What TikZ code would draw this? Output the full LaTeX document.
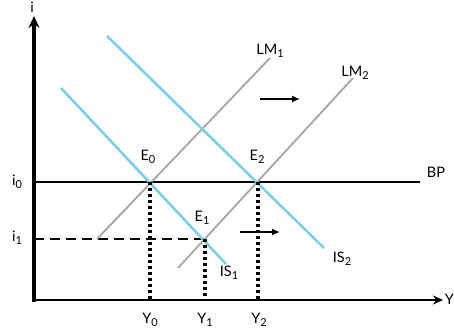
\documentclass[tikz,border=0pt]{standalone}
\usepackage{fontspec}
\setmainfont{Lato}
\usetikzlibrary{arrows.meta}
\definecolor{isblue}{RGB}{128,205,232}
\definecolor{lmgray}{RGB}{165,165,165}
\newcommand{\lowsub}[1]{\raisebox{-0.45ex}{\fontsize{11}{13}\selectfont #1}}
\tikzset{
  lbl/.style={font=\fontsize{14.5}{16}\selectfont, inner sep=1pt},
  isline/.style={isblue, line width=2.6pt},
  lmline/.style={lmgray, line width=1.8pt},
  dropline/.style={line width=3.6pt, dash pattern=on 3.4pt off 2.6pt},
  shiftarrow/.style={line width=1.4pt, -{Latex[length=8pt,width=7pt]}},
}
\begin{document}
\begin{tikzpicture}[x=1pt,y=-1pt]
\useasboundingbox (0,0) rectangle (454,329);
% key points
\coordinate (O) at (34,300);
\coordinate (ytop) at (34,16);
\coordinate (xend) at (443,300);
\coordinate (E0) at (150,182);
\coordinate (E1) at (205,239);
\coordinate (E2) at (258,182);
\coordinate (BPl) at (34,182);
\coordinate (BPr) at (420,182);
\coordinate (i1l) at (34,239);
\coordinate (Y0) at (150,300);
\coordinate (Y1) at (205,300);
\coordinate (Y2) at (258,300);
\coordinate (IS1a) at (61,88);
\coordinate (IS1b) at (226,264);
\coordinate (IS2a) at (107,36);
\coordinate (IS2b) at (324,248);
\coordinate (LM1a) at (97,239);
\coordinate (LM1b) at (270,58);
\coordinate (LM2a) at (178,268);
\coordinate (LM2b) at (353,78);
\coordinate (A1a) at (260,99);
\coordinate (A1b) at (300,99);
\coordinate (A2a) at (240,232);
\coordinate (A2b) at (280,232);
% BP and dashed
\draw[line width=1.4pt] (BPl) -- (BPr);
\draw[line width=2pt, dash pattern=on 10pt off 6pt] (i1l) -- (E1);
% curves
\draw[lmline] (LM1a) -- (LM1b);
\draw[lmline] (LM2a) -- (LM2b);
\draw[isline] (IS1a) -- (IS1b);
\draw[isline] (IS2a) -- (IS2b);
% drop lines
\draw[dropline] (E0) -- (Y0);
\draw[dropline] (E1) -- (Y1);
\draw[dropline] (E2) -- (Y2);
% axes
\draw[line width=2.6pt, -{Stealth[length=10pt,width=9pt]}] (O) -- (xend);
\draw[line width=3.6pt, -{Stealth[length=12pt,width=11pt]}] ([yshift=-1.5pt]O) -- (ytop);
% shift arrows
\draw[shiftarrow] (A1a) -- (A1b);
\draw[shiftarrow] (A2a) -- (A2b);
% labels
\node[lbl] (li) at (32,7) {i};
\node[lbl, anchor=east, inner sep=0pt] (lY) at (454,299) {Y};
\node[lbl] (li0) at (17,182) {i\lowsub{0}};
\node[lbl] (li1) at (17,238) {i\lowsub{1}};
\node[lbl] (lBP) at (436,172) {BP};
\node[lbl] (lE0) at (148,157) {E\lowsub{0}};
\node[lbl] (lE1) at (202,218) {E\lowsub{1}};
\node[lbl] (lE2) at (257,157) {E\lowsub{2}};
\node[lbl] (lLM1) at (270,51) {LM\lowsub{1}};
\node[lbl] (lLM2) at (355,73) {LM\lowsub{2}};
\node[lbl] (lIS1) at (229,273) {IS\lowsub{1}};
\node[lbl] (lIS2) at (342,259) {IS\lowsub{2}};
\node[lbl] (lY0) at (150,320) {Y\lowsub{0}};
\node[lbl] (lY1) at (205,320) {Y\lowsub{1}};
\node[lbl] (lY2) at (259,320) {Y\lowsub{2}};
\end{tikzpicture}
\end{document}
